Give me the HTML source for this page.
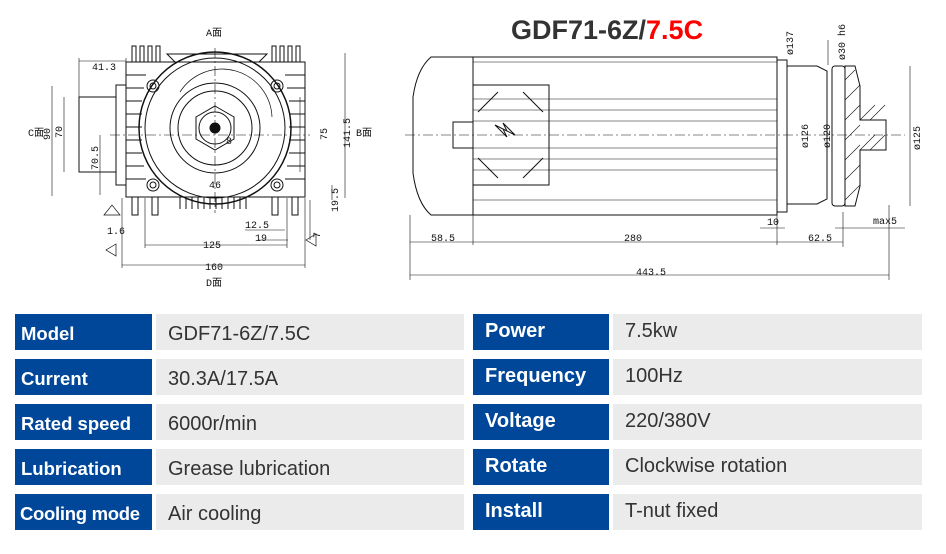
<!DOCTYPE html>
<html><head><meta charset="utf-8"><style>
body{margin:0;width:946px;height:554px;background:#fff;position:relative;overflow:hidden;font-family:"Liberation Sans",Arial,sans-serif}
.c{position:absolute;height:36px;box-sizing:border-box;font-size:20px;line-height:40px;white-space:nowrap;overflow:hidden}
.l{background:#00479a;color:#fff;font-weight:bold;padding-left:6px;font-size:18.5px}
.v{background:#ebebeb;color:#333;padding-left:12px}
.r{line-height:34px}
.l.r{font-size:20px}
svg{position:absolute;left:0;top:0}
</style></head><body>
<svg width="946" height="300" viewBox="0 0 946 300" font-family="Liberation Mono,monospace" font-size="10" fill="none" stroke="#111" stroke-width="1">
<g>
<rect x="126" y="62" width="179" height="135"/>
<path d="M132 62v-16h4v16M140 62v-16h4v16M148 62v-16h4v16M156 62v-16h4v16M280 62v-16h4v16M288 62v-16h4v16M296 62v-16h4v16M272 62v-16h4v16"/>
<path d="M175 62l-8-8h100l-8 8"/>
<path d="M126 75h20M126 88h18M126 101h16M126 114h16M126 127h16M126 140h16M126 153h16M126 166h18M126 179h20M305 75h-20M305 88h-18M305 101h-16M305 114h-16M305 127h-16M305 140h-16M305 153h-16M305 166h-18M305 179h-20"/>
<path d="M132 197v18h6v-18M152 197v18h6v-18M272 197v18h6v-18M292 197v18h6v-18M180 197v12M186 197v12M192 197v12M198 197v12M204 197v12M210 197v12M216 197v12M222 197v12M228 197v12M234 197v12M240 197v12M246 197v12"/>
<circle cx="215" cy="128" r="76" stroke-width="1.5"/>
<circle cx="215" cy="128" r="70"/>
<circle cx="215" cy="128" r="45"/>
<circle cx="215" cy="128" r="37"/>
<polygon points="215,106 234,117 234,139 215,150 196,139 196,117"/>
<circle cx="215" cy="128" r="16"/>
<circle cx="215" cy="128" r="5" fill="#111"/>
<circle cx="153" cy="86" r="6"/><circle cx="153" cy="86" r="3"/>
<circle cx="277" cy="86" r="6"/><circle cx="277" cy="86" r="3"/>
<circle cx="153" cy="185" r="6"/><circle cx="153" cy="185" r="3"/>
<circle cx="277" cy="185" r="6"/><circle cx="277" cy="185" r="3"/>
<path d="M180 92a50 50 0 0 1 92 25" stroke-width="0.7"/>
<rect x="79" y="97" width="37" height="75"/>
<rect x="116" y="85" width="10" height="100"/>
<path d="M215 48v165M110 135h200" stroke-dasharray="10 3 2 3" stroke-width="0.6"/>
<path d="M79 58v40M126 58v5M79 61h47M52 86v110M64 97v75M100 135v60M300 97v75M345 53v145M332 185v15" stroke-width="0.6"/>
<path d="M145 198v50M287 198v50M122 198v70M305 198v70M145 245h142M122 265h183M245 230h40M258 240h30M310 200v40" stroke-width="0.6"/>
<path d="M104 215l8-10 8 10zM116 244l-10 6 10 6zM306 240l10-6v12z" stroke-width="0.7"/>
</g>
<g fill="#111" stroke="none">
<text x="206" y="36">A面</text><text x="206" y="286">D面</text>
<text x="28" y="136">C面</text><text x="356" y="136">B面</text>
<text x="92" y="70">41.3</text><text x="209" y="188">46</text><text x="226" y="144">8</text>
<text x="203" y="248">125</text><text x="205" y="270">160</text>
<text x="245" y="228">12.5</text><text x="255" y="241">19</text>
<text x="107" y="234">1.6</text>
<text transform="translate(50,140) rotate(-90)">90</text>
<text transform="translate(62,138) rotate(-90)">70</text>
<text transform="translate(98,170) rotate(-90)">70.5</text>
<text transform="translate(327,140) rotate(-90)">75</text>
<text transform="translate(350,148) rotate(-90)">141.5</text>
<text transform="translate(338,212) rotate(-90)">19.5</text>
<text transform="translate(320,238) rotate(-90)">7</text>
</g>
<g>
<path d="M473 57h-42q-14 12-18 40v76q4 30 18 42h42z"/>
<rect x="473" y="57" width="304" height="158"/>
<path d="M473 62h304M473 99h304M473 110h304M473 121h304M473 148h304M473 159h304M473 170h304M473 200h304" stroke-width="0.6"/>
<rect x="473" y="85" width="76" height="100"/>
<path d="M478 112l20-20M543 112l-20-20M478 158l20 20M543 158l-20 20"/>
<path d="M495 125l12 6-4-8 12 12-12-6 4 8z"/>
<rect x="453" y="122" width="20" height="26"/>
<rect x="777" y="60" width="10" height="152"/>
<path d="M787 66h30l10 5v128l-10 5h-30z"/>
<rect x="832" y="66" width="13" height="140" rx="3"/>
<path d="M845 66h10l5 20v34h26v30h-26v36l-5 20h-10z" fill="#fff"/>
<path d="M845 80l10-10M845 100l15-15M845 120l15-15M845 140l15-15M845 160l15-15M845 180l15-15M845 200l15-15M860 120l15-15M870 120l15-15M860 150l15-15M870 150l15-15" stroke-width="0.6"/>
<path d="M405 135h500" stroke-dasharray="10 3 2 3" stroke-width="0.6"/>
<path d="M410 215v65M473 215v30M777 215v30M843 212v35M889 205v75M410 242h433M410 275h479M760 228h25M835 228h70M910 66v140M828 40v25" stroke-width="0.6"/>
</g>
<g fill="#111" stroke="none">
<text x="431" y="241">58.5</text><text x="624" y="241">280</text><text x="808" y="241">62.5</text>
<text x="636" y="275">443.5</text><text x="767" y="225">10</text><text x="873" y="224">max5</text>
<text transform="translate(793,55) rotate(-90)">ø137</text>
<text transform="translate(845,60) rotate(-90)">ø30 h6</text>
<text transform="translate(808,148) rotate(-90)">ø126</text>
<text transform="translate(830,148) rotate(-90)">ø120</text>
<text transform="translate(920,150) rotate(-90)">ø125</text>
</g>
<text x="511" y="39" font-family="Liberation Sans,Arial,sans-serif" font-size="27" font-weight="bold" fill="#333" stroke="none">GDF71-6Z/<tspan fill="#f00">7.5C</tspan></text>
</svg>
<div class="c l" style="left:15px;top:314px;width:137px">Model</div><div class="c v" style="left:156px;top:314px;width:308px">GDF71-6Z/7.5C</div>
<div class="c l" style="left:15px;top:359px;width:137px">Current</div><div class="c v" style="left:156px;top:359px;width:308px">30.3A/17.5A</div>
<div class="c l" style="left:15px;top:404px;width:137px">Rated speed</div><div class="c v" style="left:156px;top:404px;width:308px">6000r/min</div>
<div class="c l" style="left:15px;top:449px;width:137px">Lubrication</div><div class="c v" style="left:156px;top:449px;width:308px">Grease lubrication</div>
<div class="c l" style="left:15px;top:494px;width:137px;padding-left:5px;letter-spacing:-0.3px">Cooling mode</div><div class="c v" style="left:156px;top:494px;width:308px">Air cooling</div>
<div class="c l r" style="left:473px;top:314px;width:136px;padding-left:12px">Power</div><div class="c v r" style="left:613px;top:314px;width:309px">7.5kw</div>
<div class="c l r" style="left:473px;top:359px;width:136px;padding-left:12px">Frequency</div><div class="c v r" style="left:613px;top:359px;width:309px">100Hz</div>
<div class="c l r" style="left:473px;top:404px;width:136px;padding-left:12px">Voltage</div><div class="c v r" style="left:613px;top:404px;width:309px">220/380V</div>
<div class="c l r" style="left:473px;top:449px;width:136px;padding-left:12px">Rotate</div><div class="c v r" style="left:613px;top:449px;width:309px">Clockwise rotation</div>
<div class="c l r" style="left:473px;top:494px;width:136px;padding-left:12px">Install</div><div class="c v r" style="left:613px;top:494px;width:309px">T-nut fixed</div>
</body></html>
